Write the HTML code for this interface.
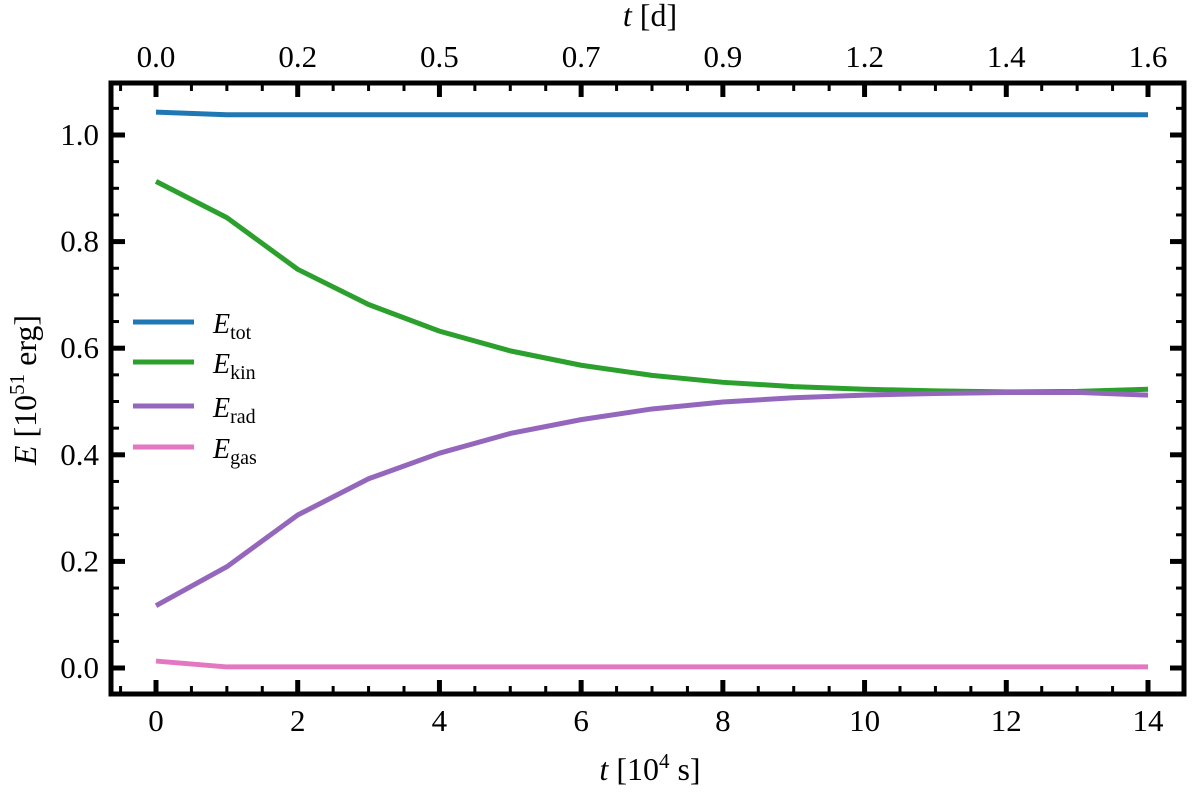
<!DOCTYPE html>
<html><head><meta charset="utf-8"><style>
body{margin:0;background:#fff;}
svg text{font-family:"Liberation Serif",serif;fill:#000;}
</style></head><body>
<svg id="chart" width="1200" height="788" xmlns="http://www.w3.org/2000/svg"></svg>
<script>
const xs=[0,1,2,3,4,5,6,7,8,9,10,11,12,13,14];
const eTot=[1.043,1.038,1.038,1.038,1.038,1.038,1.038,1.038,1.038,1.038,1.038,1.038,1.038,1.038,1.038];
const eKin=[0.913,0.845,0.748,0.682,0.632,0.595,0.568,0.549,0.536,0.528,0.523,0.520,0.518,0.519,0.523];
const eRad=[0.117,0.190,0.287,0.355,0.403,0.440,0.466,0.486,0.499,0.507,0.512,0.515,0.517,0.517,0.512];
const eGas=[0.013,0.002,0.002,0.002,0.002,0.002,0.002,0.002,0.002,0.002,0.002,0.002,0.002,0.002,0.002];
const xTicks=[0,2,4,6,8,10,12,14];
const yTicks=[0.0,0.2,0.4,0.6,0.8,1.0];
const topLabels=["0.0","0.2","0.5","0.7","0.9","1.2","1.4","1.6"];
const L=111,R=1184,T=83,B=694;
const x=v=>156+(v)*(1148-156)/14;
const y=v=>668-(v)*(668-135);
const svg=document.getElementById('chart');
const NS='http://www.w3.org/2000/svg';
function mk(tag,attrs,name){const e=document.createElementNS(NS,tag);for(const k in attrs)e.setAttribute(k,attrs[k]);


svg.appendChild(e);return e;}
for(let v=-0.5;v<=14.5;v+=0.5){if(Math.abs(v-Math.round(v/2)*2)<1e-6)continue;const px=x(v);
mk('line',{x1:px,x2:px,y1:B,y2:B-8,stroke:'#000','stroke-width':3},'x-minor-tick');
mk('line',{x1:px,x2:px,y1:T,y2:T+8,stroke:'#000','stroke-width':3},'top-minor-tick');}
for(let v=-0.05;v<=1.1;v+=0.05){const r=Math.round(v*100)/100;if(Math.abs(r*5-Math.round(r*5))<1e-6)continue;const py=y(r);
mk('line',{x1:L,x2:L+8,y1:py,y2:py,stroke:'#000','stroke-width':3},'y-minor-tick');
mk('line',{x1:R,x2:R-8,y1:py,y2:py,stroke:'#000','stroke-width':3},'right-minor-tick');}
xTicks.forEach((v,i)=>{const px=x(v);
mk('line',{x1:px,x2:px,y1:B,y2:B-14,stroke:'#000','stroke-width':5},'x-major-tick');
mk('line',{x1:px,x2:px,y1:T,y2:T+14,stroke:'#000','stroke-width':5},'top-major-tick');
const t=mk('text',{x:px,y:731,'font-size':31,'text-anchor':'middle'},'x-tick-label');t.textContent=v;
const t2=mk('text',{x:px,y:67,'font-size':31,'text-anchor':'middle'},'top-tick-label');t2.textContent=topLabels[i];});
yTicks.forEach(v=>{const py=y(v);
mk('line',{x1:L,x2:L+14,y1:py,y2:py,stroke:'#000','stroke-width':5},'y-major-tick');
mk('line',{x1:R,x2:R-14,y1:py,y2:py,stroke:'#000','stroke-width':5},'right-major-tick');
const t=mk('text',{x:99,y:py+10,'font-size':31,'text-anchor':'end'},'y-tick-label');t.textContent=v.toFixed(1);});
const series=[[eTot,'#1f77b4','line-etot'],[eKin,'#2ca02c','line-ekin'],[eRad,'#9467bd','line-erad'],[eGas,'#e377c2','line-egas']];
series.forEach(([d,c,n])=>{mk('polyline',{points:xs.map((v,i)=>x(v)+','+y(d[i])).join(' '),fill:'none',stroke:c,'stroke-width':5,'stroke-linejoin':'round'},n);});
mk('rect',{x:L,y:T,width:R-L,height:B-T,fill:'none',stroke:'#000','stroke-width':5},'plot-frame');
const leg=[['tot','#1f77b4',322],['kin','#2ca02c',362],['rad','#9467bd',406],['gas','#e377c2',447]];
leg.forEach(([s,c,py])=>{mk('line',{x1:133,x2:194,y1:py,y2:py,stroke:c,'stroke-width':5},'legend-line-'+s);
const t=mk('text',{x:213,y:py+11,'font-size':28},'legend-label-'+s);
t.innerHTML='<tspan font-style="italic">E</tspan><tspan font-size="20" dy="6">'+s+'</tspan>';});
let t=mk('text',{x:650,y:780,'font-size':32,'text-anchor':'middle'},'x-axis-title');
t.innerHTML='<tspan font-style="italic">t</tspan> [10<tspan font-size="21" dy="-12">4</tspan><tspan dy="12"> s]</tspan>';
t=mk('text',{x:650,y:26,'font-size':32,'text-anchor':'middle'},'top-axis-title');
t.innerHTML='<tspan font-style="italic">t</tspan> [d]';
t=mk('text',{x:0,y:0,'font-size':32,'text-anchor':'middle',transform:'translate(36,390) rotate(-90)'},'y-axis-title');
t.innerHTML='<tspan font-style="italic">E</tspan> [10<tspan font-size="21" dy="-12">51</tspan><tspan dy="12"> erg]</tspan>';
</script>
</body></html>
